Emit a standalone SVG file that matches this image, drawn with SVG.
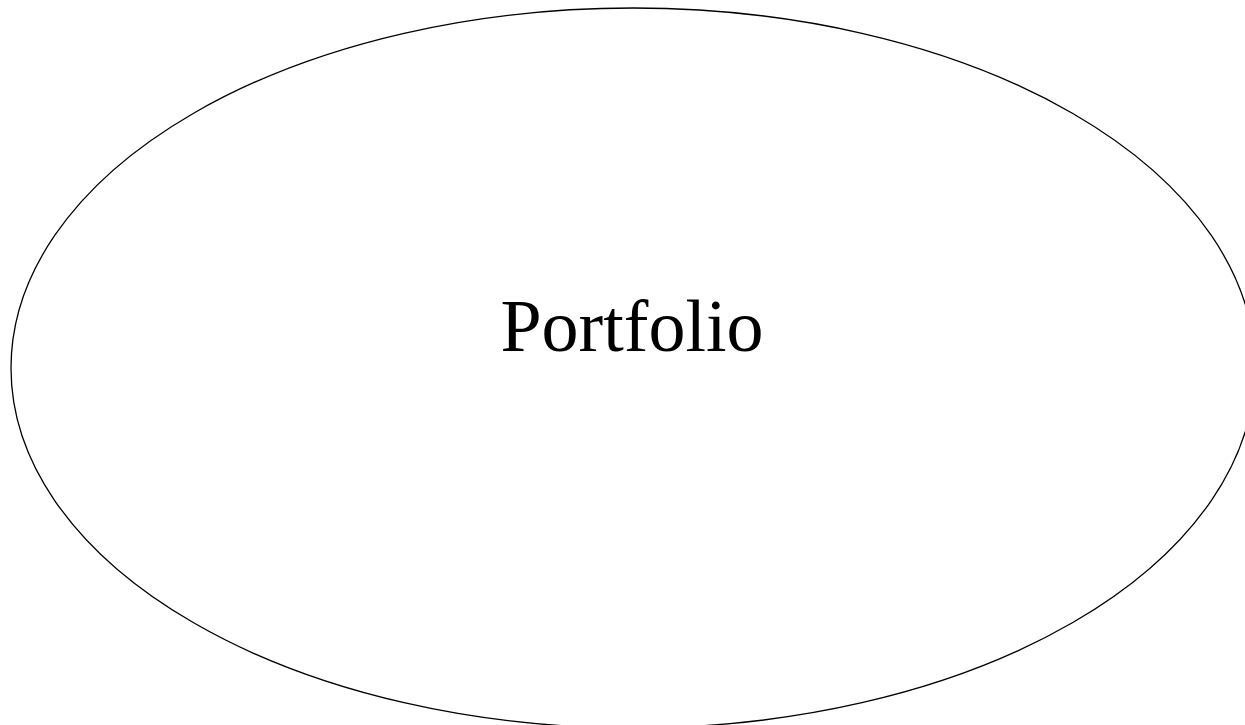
<svg xmlns="http://www.w3.org/2000/svg" width="1245" height="725" viewBox="0 0 1245 725">
<style>
.node ellipse{fill:none;stroke:#000;stroke-width:1.3}
.node text{font-family:"Liberation Serif","Times New Roman",serif;font-size:74px;fill:#000;text-anchor:middle}
</style>
<rect width="1245" height="725" fill="#fff"/>
<g id="connectors"></g>
<g id="node-portfolio" class="node">
<ellipse cx="633" cy="368" rx="622" ry="360"/>
<text x="632" y="351">Portfolio</text>
</g>
</svg>
